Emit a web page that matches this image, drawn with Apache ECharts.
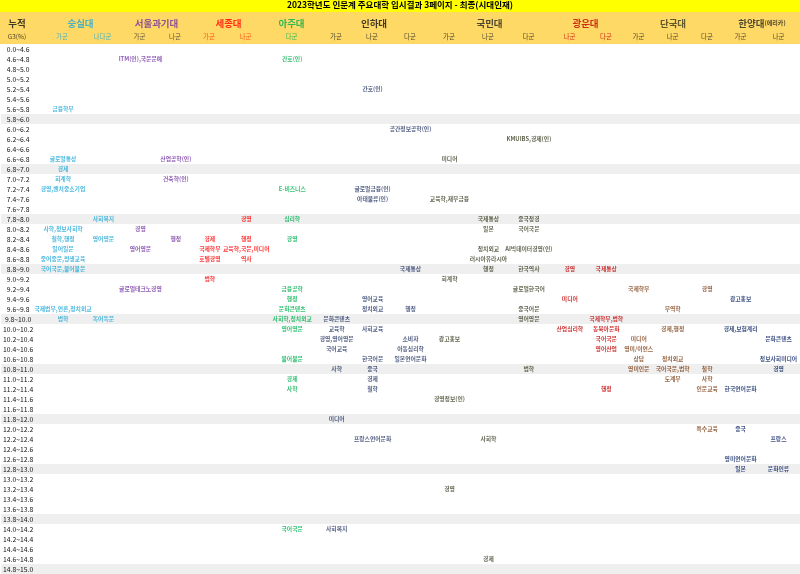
<!DOCTYPE html>
<html>
<head>
<meta charset="utf-8">
<script src="https://cdn.jsdelivr.net/npm/echarts@6/dist/echarts.min.js"></script>
<style>
html,body{margin:0;padding:0;background:#fff;}
#main{width:800px;height:574px;}
</style>
</head>
<body>
<div id="main"></div>
<script>
// 누적 G3 구간 (행)
const rowBands = ['0.0~4.6','4.6~4.8','4.8~5.0','5.0~5.2','5.2~5.4','5.4~5.6','5.6~5.8','5.8~6.0',
  '6.0~6.2','6.2~6.4','6.4~6.6','6.6~6.8','6.8~7.0','7.0~7.2','7.2~7.4','7.4~7.6','7.6~7.8','7.8~8.0',
  '8.0~8.2','8.2~8.4','8.4~8.6','8.6~8.8','8.8~9.0','9.0~9.2','9.2~9.4','9.4~9.6','9.6~9.8','9.8~10.0',
  '10.0~10.2','10.2~10.4','10.4~10.6','10.6~10.8','10.8~11.0','11.0~11.2','11.2~11.4','11.4~11.6','11.6~11.8','11.8~12.0',
  '12.0~12.2','12.2~12.4','12.4~12.6','12.6~12.8','12.8~13.0','13.0~13.2','13.2~13.4','13.4~13.6','13.6~13.8','13.8~14.0',
  '14.0~14.2','14.2~14.4','14.4~14.6','14.6~14.8','14.8~15.0'];
const shadedRows = ['5.8~6.0','6.8~7.0','7.8~8.0','8.8~9.0','9.8~10.0','10.8~11.0','11.8~12.0','12.8~13.0','13.8~14.0','14.8~15.0'];

const titleText = '2023학년도 인문계 주요대학 입시결과 3페이지 - 최종(시대인재)';
const univNames = ['누적','숭실대','서울과기대','세종대','아주대','인하대','국민대','광운대','단국대','한양대(에리카)'];
const subLabels = ['G3(%)','가군','나다군','가군','나군','가군','나군','다군','가군','나군','다군','가군','나군','다군','나군','다군','가군','나군','다군','가군','나군'];
const colUniv = [0,1,1,2,2,3,3,4,5,5,5,6,6,6,7,7,8,8,8,9,9];

// [구간, 열, 학과]
const majors = [
  ['4.6~4.8',3,'ITM(인),국문문예'],['4.6~4.8',7,'간호(인)'],
  ['5.2~5.4',9,'간호(인)'],
  ['5.6~5.8',1,'금융학부'],
  ['6.0~6.2',10,'공간정보공학(인)'],
  ['6.2~6.4',13,'KMUIBS,경제(인)'],
  ['6.6~6.8',1,'글로벌통상'],['6.6~6.8',4,'산업공학(인)'],['6.6~6.8',11,'미디어'],
  ['6.8~7.0',1,'경제'],
  ['7.0~7.2',1,'회계학'],['7.0~7.2',4,'건축학(인)'],
  ['7.2~7.4',1,'경영,벤처중소기업'],['7.2~7.4',7,'E-비즈니스'],['7.2~7.4',9,'글로벌금융(인)'],
  ['7.4~7.6',9,'아태물류(인)'],['7.4~7.6',11,'교육학,재무금융'],
  ['7.8~8.0',2,'사회복지'],['7.8~8.0',6,'경영'],['7.8~8.0',7,'심리학'],['7.8~8.0',12,'국제통상'],['7.8~8.0',13,'중국정경'],
  ['8.0~8.2',1,'사학,정보사회학'],['8.0~8.2',3,'경영'],['8.0~8.2',12,'일본'],['8.0~8.2',13,'국어국문'],
  ['8.2~8.4',1,'철학,행정'],['8.2~8.4',2,'영어영문'],['8.2~8.4',4,'행정'],['8.2~8.4',5,'경제'],['8.2~8.4',6,'행정'],['8.2~8.4',7,'경영'],
  ['8.4~8.6',1,'일어일문'],['8.4~8.6',3,'영어영문'],['8.4~8.6',5,'국제학부'],['8.4~8.6',6,'교육학,국문,미디어'],['8.4~8.6',12,'정치외교'],['8.4~8.6',13,'AI빅데이터경영(인)'],
  ['8.6~8.8',1,'중어중문,평생교육'],['8.6~8.8',5,'호텔경영'],['8.6~8.8',6,'역사'],['8.6~8.8',12,'러시아유라시아'],
  ['8.8~9.0',1,'국어국문,불어불문'],['8.8~9.0',10,'국제통상'],['8.8~9.0',12,'행정'],['8.8~9.0',13,'한국역사'],['8.8~9.0',14,'경영'],['8.8~9.0',15,'국제통상'],
  ['9.0~9.2',5,'법학'],['9.0~9.2',11,'회계학'],
  ['9.2~9.4',3,'글로벌테크노경영'],['9.2~9.4',7,'금융공학'],['9.2~9.4',13,'글로벌한국어'],['9.2~9.4',16,'국제학부'],['9.2~9.4',18,'경영'],
  ['9.4~9.6',7,'행정'],['9.4~9.6',9,'영어교육'],['9.4~9.6',14,'미디어'],['9.4~9.6',19,'광고홍보'],
  ['9.6~9.8',1,'국제법무,언론,정치외교'],['9.6~9.8',7,'문화콘텐츠'],['9.6~9.8',9,'정치외교'],['9.6~9.8',10,'행정'],['9.6~9.8',13,'중국어문'],['9.6~9.8',17,'무역학'],
  ['9.8~10.0',1,'법학'],['9.8~10.0',2,'독어독문'],['9.8~10.0',7,'사회학,정치외교'],['9.8~10.0',8,'문화콘텐츠'],['9.8~10.0',13,'영어영문'],['9.8~10.0',15,'국제학부,법학'],
  ['10.0~10.2',7,'영어영문'],['10.0~10.2',8,'교육학'],['10.0~10.2',9,'사회교육'],['10.0~10.2',14,'산업심리학'],['10.0~10.2',15,'동북아문화'],['10.0~10.2',17,'경제,행정'],['10.0~10.2',19,'경제,보험계리'],
  ['10.2~10.4',8,'경영,영어영문'],['10.2~10.4',10,'소비자'],['10.2~10.4',11,'광고홍보'],['10.2~10.4',15,'국어국문'],['10.2~10.4',16,'미디어'],['10.2~10.4',20,'문화콘텐츠'],
  ['10.4~10.6',8,'국어교육'],['10.4~10.6',10,'아동심리학'],['10.4~10.6',15,'영어산업'],['10.4~10.6',16,'영미/이언스'],
  ['10.6~10.8',7,'불어불문'],['10.6~10.8',9,'한국어문'],['10.6~10.8',10,'일본언어문화'],['10.6~10.8',16,'상담'],['10.6~10.8',17,'정치외교'],['10.6~10.8',20,'정보사회미디어'],
  ['10.8~11.0',8,'사학'],['10.8~11.0',9,'중국'],['10.8~11.0',13,'법학'],['10.8~11.0',16,'영미인문'],['10.8~11.0',17,'국어국문,법학'],['10.8~11.0',18,'철학'],['10.8~11.0',20,'경영'],
  ['11.0~11.2',7,'경제'],['11.0~11.2',9,'경제'],['11.0~11.2',17,'도계부'],['11.0~11.2',18,'사학'],
  ['11.2~11.4',7,'사학'],['11.2~11.4',9,'철학'],['11.2~11.4',15,'행정'],['11.2~11.4',18,'인문교육'],['11.2~11.4',19,'한국언어문화'],
  ['11.4~11.6',11,'경영정보(인)'],
  ['11.8~12.0',8,'미디어'],
  ['12.0~12.2',18,'특수교육'],['12.0~12.2',19,'중국'],
  ['12.2~12.4',9,'프랑스언어문화'],['12.2~12.4',12,'사회학'],['12.2~12.4',20,'프랑스'],
  ['12.6~12.8',19,'영미언어문화'],
  ['12.8~13.0',19,'일본'],['12.8~13.0',20,'문화인류'],
  ['13.2~13.4',11,'경영'],
  ['14.0~14.2',7,'국어국문'],['14.0~14.2',8,'사회복지'],
  ['14.6~14.8',12,'경제']
];

// 표 모양 (열 너비, 색)
const colWidths = [40,44,37,37,34,34,39,53,36,36,40,38,40,41,41,32,33,35,34,33,43];
const bodyColor = ['#222','#1ea7d8','#7030a0','#ff0000','#00b050','#1f2f5f','#3a3d22','#c00000','#7a3b10','#0b2463'];
const headColor = ['#111','#1ea7d8','#7030a0','#ff0000','#00b050','#111','#222','#c00000','#3a3a1a','#222'];
const subColor = ['#111','#1ea7d8','#333','#ff3300','#00b050','#222','#222','#c00000','#222','#222'];
const font = 'Noto Sans CJK KR';

const colEdges = [0];
colWidths.forEach(w => colEdges.push(colEdges[colEdges.length - 1] + w));
const totalW = colEdges[colEdges.length - 1];
const colMid = c => (colEdges[c] + colEdges[c + 1]) / 2;

let chartDom = document.getElementById('main');
let myChart = echarts.init(chartDom);
let option;

let series = [];
// 회색 줄
series.push({
  type: 'bar', xAxisIndex: 0, yAxisIndex: 0, silent: true,
  barWidth: '100%', itemStyle: { color: '#efefef' },
  data: rowBands.map(r => shadedRows.includes(r) ? totalW : '-')
});

univNames.forEach((u, ui) => {
  if (ui === 0) return;
  let data = majors.filter(m => colUniv[m[1]] === ui)
    .map(m => ({ name: m[2], value: [colMid(m[1]), m[0]] }));
  series.push({
    type: 'scatter', name: u, xAxisIndex: 0, yAxisIndex: 0, silent: true,
    symbolSize: 0, z: 5, data: data,
    label: { show: true, position: 'inside', formatter: '{b}', color: bodyColor[ui], fontSize: 5.8, fontWeight: 'bold', fontFamily: font }
  });
});

// 머리글
let headData = [];
univNames.forEach((u, ui) => {
  let cols = colUniv.map((v, i) => v === ui ? i : -1).filter(i => i >= 0);
  let x = (colEdges[cols[0]] + colEdges[cols[cols.length - 1] + 1]) / 2;
  if (ui === 0) x = 17;
  let item = { name: u, value: [x, 'univ'], label: { color: headColor[ui] } };
  if (u.indexOf('(') > 0) {
    let k = u.indexOf('(');
    item.label.formatter = '{m|' + u.slice(0, k) + '}{s|' + u.slice(k) + '}';
    item.label.rich = {
      m: { fontSize: 9.5, fontWeight: 'bold', color: headColor[ui], fontFamily: font },
      s: { fontSize: 6, fontWeight: 'bold', color: headColor[ui], fontFamily: font }
    };
  }
  headData.push(item);
});
subLabels.forEach((s, i) => {
  headData.push({ name: s, value: [i === 0 ? 17 : colMid(i), 'sub'],
    label: { color: subColor[colUniv[i]], fontSize: 6.5, fontWeight: 'normal' } });
});
series.push({
  type: 'scatter', xAxisIndex: 1, yAxisIndex: 1, silent: true, symbolSize: 0, z: 5,
  data: headData,
  label: { show: true, position: 'inside', formatter: '{b}', fontSize: 9.5, fontWeight: 'bold', fontFamily: font }
});

option = {
  animation: false,
  backgroundColor: '#fff',
  title: {
    text: titleText, left: 'center', top: 1, padding: 0,
    textStyle: { fontSize: 8.5, fontWeight: 'bold', color: '#000', fontFamily: font }
  },
  graphic: [
    { type: 'rect', z: -10, shape: { x: 0, y: 0, width: 800, height: 12 }, style: { fill: '#ffff00' } },
    { type: 'rect', z: -10, shape: { x: 0, y: 12, width: 800, height: 32 }, style: { fill: '#ffd966' } }
  ],
  grid: [
    { left: 0, right: 0, top: 44, bottom: 0 },
    { left: 0, right: 0, top: 16, height: 28 }
  ],
  xAxis: [
    { type: 'value', gridIndex: 0, min: 0, max: totalW, show: false },
    { type: 'value', gridIndex: 1, min: 0, max: totalW, show: false }
  ],
  yAxis: [
    {
      type: 'category', gridIndex: 0, data: rowBands, inverse: true, z: 3,
      axisLine: { show: false }, axisTick: { show: false }, splitLine: { show: false },
      axisLabel: { inside: true, margin: 17, align: 'center', interval: 0, fontSize: 6.8, color: '#111', fontFamily: font }
    },
    {
      type: 'category', gridIndex: 1, data: ['univ', 'sub'], inverse: true, show: false
    }
  ],
  series: series
};

option && myChart.setOption(option);
</script>
</body>
</html>
